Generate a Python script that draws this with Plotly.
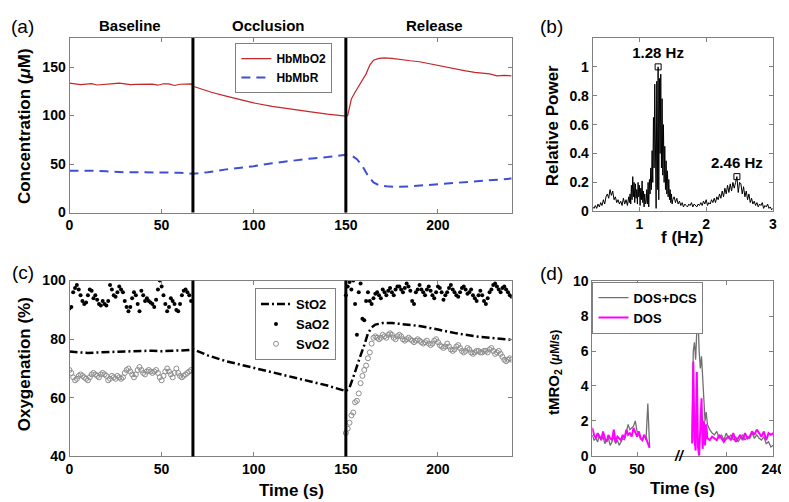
import plotly.graph_objects as go
import numpy as np

# ---------------- data ----------------
# (a) concentrations, uM
o2_t = [0, 3, 6, 9, 12, 15, 18, 21, 24, 27, 30, 33, 36, 39, 42, 45, 48, 51, 54, 57, 60, 63, 66,
        67.5, 72, 77, 85, 92, 100, 110, 120, 130, 140, 146, 150,
        151, 152, 153, 155, 157, 159, 161, 163, 165, 168, 171, 175, 180, 185, 190, 195, 200, 205,
        210, 215, 220, 225, 228, 232, 236, 240]
hbmbo2 = [133.5, 132.5, 131.8, 132.4, 133, 131.5, 131.8, 132.5, 133, 133.5, 132.8, 132, 132.2,
          132.1, 132.5, 132.4, 131.3, 132.8, 132.6, 131, 132.3, 132.4, 132.6,
          130, 127, 124, 120, 116.5, 113, 109.5, 106.5, 104, 101.5, 100.2, 99.5,
          100, 110, 117, 124, 130, 136, 143, 152, 157, 159, 159.5, 159, 157.5, 156.5, 155.5,
          153.5, 152, 150, 148, 146, 144.5, 143.5, 143, 141, 141.5, 141]
r_t = [0, 10, 20, 30, 40, 50, 60, 67, 75, 85, 95, 100, 110, 120, 130, 140, 150,
       153, 156, 159, 162, 165, 168, 172, 178, 185, 195, 205, 215, 225, 235, 240]
hbmbr = [43, 43.2, 42.5, 41.5, 41.5, 41.3, 41, 40, 41.5, 44.5, 46.5, 47.8, 50.8, 53.4, 55.5,
         57.2, 59.5, 59, 55, 48, 38, 31, 28, 27, 26.5, 27, 28.5, 30, 31.5, 33, 34.5, 35]
phase_edges = [67, 150]
phase_names = ["Baseline", "Occlusion", "Release"]
phase_mid = [33, 108, 198]

# (b) spectrum: 0.02 Hz steps, 0.01 Hz steps around the main peak
freq = np.concatenate([np.round(np.arange(0.30, 0.845, 0.02), 2),
                       np.round(np.arange(0.85, 1.505, 0.01), 2),
                       np.round(np.arange(1.52, 3.005, 0.02), 2)])
power = [0.03, 0.02, 0.04, 0.02, 0.05, 0.03, 0.06, 0.04, 0.08, 0.05, 0.10,
         0.12, 0.09, 0.15, 0.11, 0.14, 0.08, 0.10, 0.06, 0.08, 0.05,
         0.07, 0.04, 0.09, 0.05, 0.08, 0.04, 0.10,
         # 0.85 - 1.09
         0.06, 0.12, 0.05, 0.18, 0.08, 0.24, 0.10, 0.20, 0.06, 0.19, 0.09, 0.15, 0.05,
         0.20, 0.10, 0.18, 0.04, 0.16, 0.08, 0.21, 0.06, 0.14, 0.03, 0.12, 0.05,
         # 1.10 - 1.50
         0.06, 0.15, 0.05, 0.20, 0.03, 0.22, 0.12, 0.30, 0.15, 0.42, 0.20, 0.65, 0.30, 0.88,
         0.25, 0.02, 0.90, 0.15, 1.00, 0.08, 0.92, 0.40, 0.95, 0.30, 0.78, 0.25, 0.60, 0.20,
         0.45, 0.15, 0.35, 0.12, 0.28, 0.10, 0.22, 0.08, 0.15, 0.06, 0.12, 0.05, 0.08,
         # 1.52 - 3.00
         0.10, 0.06, 0.09, 0.05, 0.07, 0.04, 0.06, 0.03, 0.05, 0.04,
         0.03, 0.05, 0.04, 0.06, 0.03, 0.05, 0.04, 0.03, 0.05, 0.04,
         0.06, 0.04, 0.07, 0.05, 0.08, 0.04, 0.06, 0.05, 0.08, 0.06,
         0.09, 0.06, 0.10, 0.08, 0.12, 0.09, 0.14, 0.10, 0.16, 0.12,
         0.18, 0.13, 0.19, 0.14, 0.20, 0.16, 0.20, 0.24, 0.13, 0.20,
         0.19, 0.12, 0.17, 0.10, 0.14, 0.08, 0.12, 0.06, 0.09, 0.05,
         0.07, 0.04, 0.06, 0.03, 0.05, 0.04, 0.06, 0.02, 0.04, 0.03,
         0.05, 0.02, 0.03, 0.01, 0.02]
peak_f = [1.28, 2.46]
peak_p = [1.00, 0.24]
peak_txt = ["1.28 Hz", "2.46 Hz"]

# (c) oxygenation, %
sto2_t = [0, 5, 10, 15, 20, 25, 30, 35, 40, 45, 50, 55, 60, 65, 67,
          75, 85, 95, 100, 110, 120, 130, 140, 150,
          152, 154, 156, 158, 160, 162, 164, 166, 170, 175, 180, 190, 200, 210, 220, 230, 240]
sto2 = [75.8, 75.6, 75.3, 75.5, 75.6, 75.9, 76.0, 76.1, 76.0, 76.1, 75.9, 76.0, 76.0, 76.3, 76.6,
        74.5, 72.5, 71.0, 70.3, 68.7, 67.4, 65.8, 64.2, 62.3,
        63.5, 67, 71, 74.5, 78, 82, 84, 85, 85.5, 85.5, 85.2, 84.5, 83.3, 82, 81, 80.3, 79.8]
base_t = list(range(0, 67))
rel_t = list(range(150, 241))
sao2_base = [90.5, 91, 96, 97.5, 98.5, 97, 95, 93, 92, 92.5,
             95, 97, 96.5, 94, 95, 93.5, 92, 91.5, 93, 92,
             91.5, 93, 98.5, 97, 95, 94.5, 96, 98, 97, 96,
             93, 91, 89.5, 91, 94, 96, 95, 92, 89.5, 96.5,
             95, 93, 94, 93, 92.5, 92, 91, 93.5, 97, 100,
             98, 95, 92, 89.5, 91, 94, 93, 92, 90, 89.5,
             92, 95, 96.5, 97, 96, 95, 93]
sao2_rel = [95, 98, 99.5, 97, 100, 92, 81.5, 96, 99, 87,
            86.5, 93, 96, 93, 92, 94, 95.5, 96, 95, 94,
            97, 96, 95, 96.5, 97.5, 96, 95, 97, 98, 98,
            97, 96, 97.5, 99, 98, 96.5, 93, 92, 96, 97,
            98.5, 97, 96, 95, 97, 98, 96.5, 95, 94, 96,
            98, 97.5, 96, 93.5, 95, 96, 97.5, 98.5, 97, 96,
            95, 94.5, 96, 97.5, 98, 97, 95.5, 96, 97, 95,
            94, 93, 95, 96.5, 95, 93, 92, 94, 96, 97,
            98.5, 99, 98, 97, 96, 97.5, 98, 97, 96, 95, 94.5]
svo2_base = [69.5, 68.5, 67, 66, 66.5, 67.5, 68, 67.5, 67, 66.5,
             66, 67, 68, 68.5, 68, 67.5, 67, 68, 68.5, 68,
             67.5, 66, 66.5, 67.5, 67, 66.5, 67.5, 67, 66.5, 67,
             68.5, 69.5, 70, 69, 68, 67, 68, 69.5, 70.5, 69.5,
             68.5, 68, 69, 69.5, 69, 68.5, 69, 69.5, 68.5, 67,
             66, 67.5, 69, 70, 69, 68, 67, 68.5, 70, 68.5,
             67.5, 67, 67.5, 68, 68.5, 69, 69.5]
svo2_rel = [48, 49.5, 51.5, 54, 55, 58.5, 59, 61.5, 65, 67.5,
            69.5, 71, 73.5, 75.5, 78.5, 80.5, 81, 80.5, 80, 80.5,
            81.5, 81, 80.5, 81.5, 82, 81.5, 80.5, 80, 81, 81.5,
            81, 80, 79.5, 80, 80.5, 80, 79.5, 79, 79.5, 80,
            79.5, 79, 78.5, 79, 79.5, 78.5, 78, 78.5, 79.5, 80,
            79, 78, 77.5, 77, 77.5, 78.5, 77.5, 76.5, 76, 76.5,
            77.5, 78, 77, 76, 75.5, 76, 77, 76.5, 75.5, 75,
            75.5, 76, 76, 75.5, 75.5, 76, 76, 75.5, 76.5, 77,
            76, 75, 75.5, 76, 75, 74, 73, 72.5, 73, 73.5, 73]

# (d) tMRO2, uM/s  (broken time axis)
dl_t = list(range(0, 65, 2))
dos_l = [1.6, 1.2, 1.0, 1.3, 1.1, 0.9, 1.4, 1.0, 0.8, 1.2, 1.0, 0.9, 1.5, 0.8, 1.1, 1.0, 0.9,
         1.2, 1.0, 1.5, 1.2, 1.3, 1.1, 1.6, 1.3, 1.1, 1.4, 1.0, 0.9, 1.2, 1.0, 0.7, 0.45]
dcs_l = [1.2, 0.9, 1.0, 0.8, 1.2, 0.9, 1.1, 0.7, 0.9, 1.0, 0.6, 0.8, 1.1, 0.7, 0.9, 0.6, 0.8,
         1.0, 0.9, 1.4, 1.8, 1.5, 1.6, 1.7, 2.0, 1.4, 1.2, 1.0, 0.9, 1.2, 0.9, 3.0, 0.5]
dr_t = [171, 172, 173, 174, 175, 176, 177, 178, 179, 180, 181, 182, 183, 184] + list(range(186, 241, 2))
dos_r = [0.7, 5.4, 1.0, 0.3, 4.8, 0.5, 0.0, 1.5, 3.3, 0.4, 2.0, 0.6, 1.8, 1.0,
         0.9, 1.1, 1.0, 0.9, 1.2, 1.0, 0.8, 1.0, 1.1, 0.9, 1.3, 0.8, 1.0, 1.2, 0.9, 1.3, 1.0, 1.1,
         1.4, 1.2, 1.5, 1.3, 1.1, 1.4, 0.9, 1.3, 1.2, 1.3]
dcs_r = [1.0, 6.0, 6.5, 5.5, 7.2, 8.0, 6.0, 5.0, 5.7, 4.5, 3.5, 2.0, 2.5, 1.8,
         1.5, 1.3, 1.2, 1.4, 1.0, 1.2, 0.9, 1.3, 1.0, 1.2, 0.9, 1.1, 0.8, 1.0, 1.2, 0.9, 1.1, 1.0,
         1.3, 1.0, 1.2, 1.0, 0.9, 1.1, 0.7, 0.8, 0.5, 0.6]

W, H = 789, 502
FONT = "Arial, Liberation Sans, sans-serif"
GRAY = "#808080"


def px(x):
    return x / W


def py(y):
    return 1 - y / H


def axis(**kw):
    d = dict(showline=True, linecolor=GRAY, linewidth=1, mirror="ticks", ticks="inside",
             ticklen=4, tickcolor=GRAY, showgrid=False, zeroline=False,
             tickfont=dict(size=14, color="black", family=FONT, weight="bold"))
    d.update(kw)
    return d


fig = go.Figure()

# (a)
fig.add_trace(go.Scatter(x=o2_t, y=hbmbo2, mode="lines", name="HbMbO2",
                         line=dict(color="#c4262a", width=1.2), xaxis="x", yaxis="y", legend="legend"))
fig.add_trace(go.Scatter(x=r_t, y=hbmbr, mode="lines", name="HbMbR",
                         line=dict(color="#3d4fd4", width=2, dash="9px,6px"), xaxis="x", yaxis="y",
                         legend="legend"))

# (b)
fig.add_trace(go.Scatter(x=freq, y=power, mode="lines", line=dict(color="black", width=1),
                         showlegend=False, xaxis="x2", yaxis="y2"))
fig.add_trace(go.Scatter(x=peak_f, y=peak_p, mode="markers+text", text=peak_txt,
                         textposition="top center",
                         textfont=dict(size=15, family=FONT, weight="bold", color="black"),
                         marker=dict(symbol="square-open", size=6, color="black", line=dict(width=1)),
                         showlegend=False, xaxis="x2", yaxis="y2"))

# (c)
fig.add_trace(go.Scatter(x=sto2_t, y=sto2, mode="lines", name="StO2",
                         line=dict(color="black", width=2.5, dash="8px,3px,2px,3px"),
                         xaxis="x3", yaxis="y3", legend="legend2"))
fig.add_trace(go.Scatter(x=base_t + rel_t, y=sao2_base + sao2_rel, mode="markers", name="SaO2",
                         marker=dict(color="black", size=4), xaxis="x3", yaxis="y3", legend="legend2"))
fig.add_trace(go.Scatter(x=base_t + rel_t, y=svo2_base + svo2_rel, mode="markers", name="SvO2",
                         marker=dict(symbol="circle-open", color="#8c8c8c", size=5, line=dict(width=1)),
                         xaxis="x3", yaxis="y3", legend="legend2"))

# (d)
fig.add_trace(go.Scatter(x=dl_t, y=dcs_l, mode="lines", name="DOS+DCS",
                         line=dict(color="#707070", width=1.3), xaxis="x4", yaxis="y4", legend="legend3"))
fig.add_trace(go.Scatter(x=dl_t, y=dos_l, mode="lines", name="DOS",
                         line=dict(color="#ff00ff", width=2), xaxis="x4", yaxis="y4", legend="legend3"))
fig.add_trace(go.Scatter(x=dr_t, y=dcs_r, mode="lines", line=dict(color="#707070", width=1.3),
                         showlegend=False, xaxis="x5", yaxis="y5"))
fig.add_trace(go.Scatter(x=dr_t, y=dos_r, mode="lines", line=dict(color="#ff00ff", width=2),
                         showlegend=False, xaxis="x5", yaxis="y5"))

shapes = []
for xr in ["x", "x3"]:
    yr = "y domain" if xr == "x" else "y3 domain"
    for e in phase_edges:
        shapes.append(dict(type="line", xref=xr, yref=yr, x0=e, x1=e, y0=0, y1=1,
                           line=dict(color="black", width=3)))

ann = []


def text(x, y, s, size=17, bold=True, angle=0, xref="paper", yref="paper"):
    ann.append(dict(x=x, y=y, xref=xref, yref=yref, text=s, showarrow=False, textangle=angle,
                    xanchor="center", yanchor="middle",
                    font=dict(size=size, family=FONT, color="black",
                              weight="bold" if bold else "normal")))


for nm, m in zip(phase_names, phase_mid):
    ann.append(dict(x=m, y=py(10), xref="x", yref="paper", text=nm, showarrow=False,
                    xanchor="center", yanchor="middle",
                    font=dict(size=15, family=FONT, color="black", weight="bold")))

text(px(11), py(11), "(a)", size=19, bold=False)
text(px(551), py(11), "(b)", size=19, bold=False)
text(px(11), py(265), "(c)", size=19, bold=False)
text(px(551), py(266), "(d)", size=19, bold=False)
text(px(13), py(114), "Concentration (<i>μ</i>M)", angle=-90)
text(px(552), py(113), "Relative Power", angle=-90)
text(px(13), py(360), "Oxygenation (%)", angle=-90)
text(px(553), py(368), "tMRO<sub>2</sub> <span style='font-size:12px'>(<i>μ</i>M/s)</span>",
     size=15, angle=-90)
text(px(684), py(229), "f (Hz)")
text(px(285), py(490), "Time (s)")
text(px(684), py(488), "Time (s)")
text(px(681), py(454), "<i>//</i>", size=14)

fig.update_layout(
    width=W, height=H, margin=dict(l=0, r=0, t=0, b=0),
    paper_bgcolor="white", plot_bgcolor="white",
    font=dict(family=FONT, color="black"),
    shapes=shapes, annotations=ann,
    xaxis=axis(domain=[px(58.7), px(510)], range=[0, 240], tickvals=[0, 50, 100, 150, 200], anchor="y"),
    yaxis=axis(domain=[py(203), py(22.7)], range=[0, 180], tickvals=[0, 50, 100, 150], anchor="x"),
    xaxis2=axis(domain=[px(592.7), px(776.7)], range=[0.3, 3], tickvals=[1, 2, 3], anchor="y2"),
    yaxis2=axis(domain=[py(201.7), py(22.7)], range=[0, 1.2], tickvals=[0, 0.2, 0.4, 0.6, 0.8, 1],
                anchor="x2"),
    xaxis3=axis(domain=[px(58.7), px(510)], range=[0, 240], tickvals=[0, 50, 100, 150, 200], anchor="y3"),
    yaxis3=axis(domain=[py(455), py(273.3)], range=[40, 100], tickvals=[40, 60, 80, 100], anchor="x3"),
    xaxis4=axis(domain=[px(592.3), px(681.7)], range=[0, 97.8], tickvals=[0, 50], anchor="y4"),
    yaxis4=axis(domain=[py(454.3), py(274)], range=[0, 10], tickvals=[0, 2, 4, 6, 8, 10],
                anchor="x4", mirror=False),
    xaxis5=axis(domain=[px(681.7), px(777)], range=[160.6, 240], tickvals=[200, 240], anchor="y5"),
    yaxis5=axis(domain=[py(454.3), py(274)], range=[0, 10], tickvals=[0, 2, 4, 6, 8, 10],
                anchor="x5", side="right", mirror=False, showticklabels=False),
    legend=dict(x=px(228), y=py(28), xanchor="left", yanchor="top", bgcolor="white",
                bordercolor=GRAY, borderwidth=1, font=dict(size=12, weight="bold"),
                itemwidth=30, tracegroupgap=0),
    legend2=dict(x=px(248), y=py(281), xanchor="left", yanchor="top", bgcolor="white",
                 bordercolor=GRAY, borderwidth=1, font=dict(size=13, weight="bold"),
                 itemwidth=30, tracegroupgap=0),
    legend3=dict(x=px(592.5), y=py(274.5), xanchor="left", yanchor="top", bgcolor="white",
                 bordercolor=GRAY, borderwidth=1, font=dict(size=13, weight="bold"),
                 itemwidth=30, tracegroupgap=0),
)

fig.write_html("out.html")
